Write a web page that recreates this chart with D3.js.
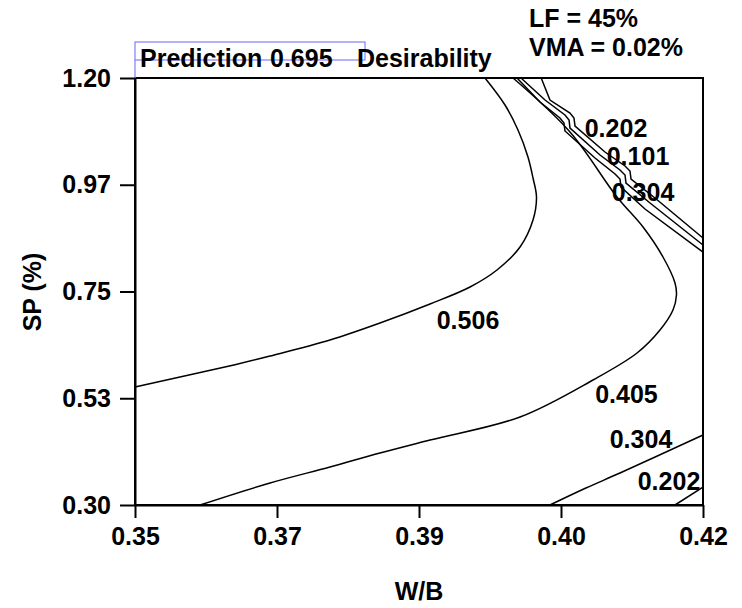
<html>
<head>
<meta charset="utf-8">
<title>Desirability contour</title>
<style>
body { margin: 0; background: #fff; }
text { font-family: "Liberation Sans", Arial, sans-serif; font-weight: bold; }
</style>
</head>
<body>
<div id="chart"></div>
<script src="https://d3js.org/d3.v7.min.js"></script>
<script type="text/javascript">

// axis ticks
var xTicks = [0.35, 0.3675, 0.385, 0.4025, 0.42];
var xTickLabels = ["0.35", "0.37", "0.39", "0.40", "0.42"];
var yTicks = [0.30, 0.525, 0.75, 0.975, 1.20];
var yTickLabels = ["0.30", "0.53", "0.75", "0.97", "1.20"];

// contour lines, [W/B, SP] pairs
var c506 = [[0.35, 0.5487], [0.36232, 0.5957], [0.36664, 0.6140], [0.37403, 0.6478], [0.38019, 0.6836],
    [0.38636, 0.7237], [0.39129, 0.7595], [0.39461, 0.7953], [0.39745, 0.8438], [0.39905, 0.9007],
    [0.39948, 0.9492], [0.39905, 0.9892], [0.39843, 1.0335], [0.39720, 1.0904], [0.39560, 1.1431], [0.39313, 1.20]];
var c405 = [[0.35801, 0.30], [0.36664, 0.3464], [0.37403, 0.3801], [0.38019, 0.4096], [0.38636, 0.4370],
    [0.39745, 0.4855], [0.40644, 0.5635], [0.41187, 0.6204], [0.41470, 0.6688], [0.41630, 0.7110],
    [0.41673, 0.7426], [0.41655, 0.7679], [0.41507, 0.8227], [0.41261, 0.8859], [0.40940, 0.9492],
    [0.40361, 1.0862], [0.39659, 1.20]];
var c304top = [[0.39708, 1.20], [0.39991, 1.1494], [0.40237, 1.1157], [0.40287, 1.1051], [0.40299, 1.0883],
    [0.40669, 1.0314], [0.40916, 0.9977], [0.40977, 0.9871], [0.40989, 0.9702], [0.41285, 0.9239], [0.42, 0.8332]];
var c202top = [[0.39757, 1.20], [0.40053, 1.1536], [0.40299, 1.1220], [0.40349, 1.1115], [0.40361, 1.0946],
    [0.40731, 1.0377], [0.40977, 1.0061], [0.41039, 0.9955], [0.41051, 0.9787], [0.41347, 0.9365], [0.42, 0.8480]];
var c101top = [[0.40006, 1.20], [0.40114, 1.1536], [0.40361, 1.1262], [0.40410, 1.1157], [0.40423, 1.0988],
    [0.40792, 1.0440], [0.41039, 1.0145], [0.41100, 1.0040], [0.41113, 0.9871], [0.41408, 0.9471], [0.42, 0.8628]];
var c304low = [[0.40114, 0.30], [0.40557, 0.3358], [0.40977, 0.3674], [0.42, 0.4475]];
var c202low = [[0.41655, 0.30], [0.42, 0.3379]];

// contour labels
var labelText = ["0.506", "0.405", "0.304", "0.202", "0.202", "0.101", "0.304"];
var labelX = [0.39104, 0.41057, 0.41236, 0.41581, 0.40928, 0.41199, 0.41261];
var labelY = [0.6889, 0.5340, 0.4391, 0.3506, 1.0946, 1.0366, 0.9597];

var width = 742, height = 608;
var margin = {left: 135, top: 78, right: 39, bottom: 103};
var w = width - margin.left - margin.right;
var h = height - margin.top - margin.bottom;

var svg = d3.select("#chart").append("svg")
    .attr("width", width)
    .attr("height", height);

var x = d3.scaleLinear().domain([0.35, 0.42]).range([0, w]);
var y = d3.scaleLinear().domain([0.30, 1.20]).range([h, 0]);

var g = svg.append("g").attr("transform", "translate(" + margin.left + "," + margin.top + ")");

var smooth = d3.line()
    .x(function(d) { return x(d[0]); })
    .y(function(d) { return y(d[1]); })
    .curve(d3.curveCatmullRom);
var jagged = d3.line()
    .x(function(d) { return x(d[0]); })
    .y(function(d) { return y(d[1]); });

[c506, c405, c304low, c202low].forEach(function(c) {
    g.append("path").attr("d", smooth(c))
        .attr("fill", "none").attr("stroke", "#000").attr("stroke-width", 1.5);
});
[c304top, c202top, c101top].forEach(function(c) {
    g.append("path").attr("d", jagged(c))
        .attr("fill", "none").attr("stroke", "#000").attr("stroke-width", 1.5);
});

g.selectAll(".clab")
    .data(labelText)
    .enter()
    .append("text")
        .attr("class", "clab")
        .attr("x", function(d, i) { return x(labelX[i]); })
        .attr("y", function(d, i) { return y(labelY[i]) + 9; })
        .attr("text-anchor", "middle")
        .attr("font-size", 25)
        .text(function(d) { return d; });

// frame
g.append("rect").attr("width", w).attr("height", h)
    .attr("fill", "none").attr("stroke", "#000").attr("stroke-width", 2);

var xAxis = d3.axisBottom(x)
    .tickValues(xTicks)
    .tickFormat(function(d, i) { return xTickLabels[i]; })
    .tickSize(13).tickSizeOuter(0).tickPadding(9);
var yAxis = d3.axisLeft(y)
    .tickValues(yTicks)
    .tickFormat(function(d, i) { return yTickLabels[i]; })
    .tickSize(15).tickSizeOuter(0).tickPadding(9);

var gx = g.append("g").attr("transform", "translate(0," + h + ")").call(xAxis);
var gy = g.append("g").call(yAxis);
[gx, gy].forEach(function(a) {
    a.select(".domain").attr("stroke-width", 2);
    a.selectAll(".tick line").attr("stroke-width", 2);
    a.selectAll(".tick text").attr("font-size", 25).attr("fill", "#000")
        .style("font-family", "'Liberation Sans', Arial, sans-serif").style("font-weight", "bold");
});

// axis titles
svg.append("text").attr("x", 419).attr("y", 600)
    .attr("text-anchor", "middle").attr("font-size", 25).text("W/B");
svg.append("text").attr("transform", "translate(41,292) rotate(-90)")
    .attr("text-anchor", "middle").attr("font-size", 25).text("SP (%)");

// condition text
svg.append("text").attr("x", 529).attr("y", 27).attr("font-size", 25).text("LF = 45%");
svg.append("text").attr("x", 529).attr("y", 56).attr("font-size", 25).text("VMA = 0.02%");

// prediction box
svg.append("rect").attr("x", 135).attr("y", 42).attr("width", 230).attr("height", 18)
    .attr("fill", "none").attr("stroke", "#7f7fff").attr("stroke-width", 1.2);
svg.append("line").attr("x1", 135).attr("x2", 135).attr("y1", 60).attr("y2", 78)
    .attr("stroke", "#7f7fff").attr("stroke-width", 1.2);
svg.append("text").attr("x", 140).attr("y", 67).attr("font-size", 25).text("Prediction");
svg.append("text").attr("x", 270).attr("y", 67).attr("font-size", 25).text("0.695");
svg.append("text").attr("x", 357).attr("y", 67).attr("font-size", 25).text("Desirability");

</script>
</body>
</html>
